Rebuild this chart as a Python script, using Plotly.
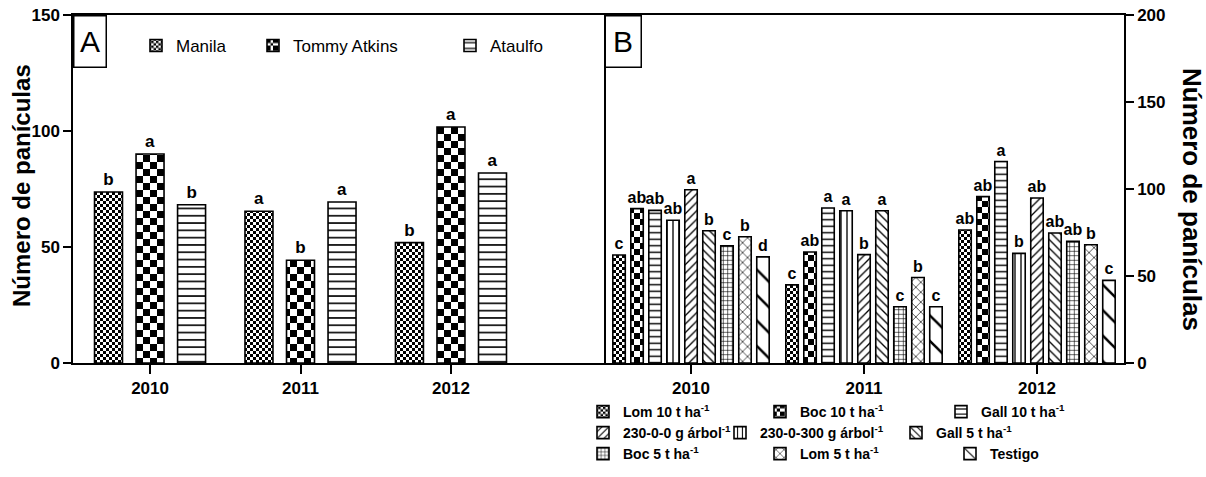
import plotly.graph_objects as go

# ---------------- data ----------------
years = ["2010", "2011", "2012"]

# Panel A: cultivars
manila = [73.7, 65.4, 51.9]
tommy_atkins = [90.1, 44.3, 101.7]
ataulfo = [68.2, 69.4, 81.9]
letters_manila = ["b", "a", "b"]
letters_tommy = ["a", "b", "a"]
letters_ataulfo = ["b", "a", "a"]
cv_a = ["17.5", "34.1", "43.1"]

# Panel B: fertilisation treatments
lom10 = [62.1, 44.9, 76.4]
boc10 = [88.7, 63.8, 95.6]
gall10 = [87.7, 89.1, 115.8]
npk_230_0_300 = [82.0, 87.5, 63.0]
npk_230_0_0 = [99.6, 62.3, 94.8]
gall5 = [76.0, 87.5, 74.7]
boc5 = [67.3, 32.3, 69.9]
lom5 = [72.6, 49.1, 68.0]
testigo = [61.0, 32.3, 47.5]

letters_lom10 = ["c", "c", "ab"]
letters_boc10 = ["ab", "ab", "ab"]
letters_gall10 = ["ab", "a", "a"]
letters_230_0_300 = ["ab", "a", "b"]
letters_230_0_0 = ["a", "b", "ab"]
letters_gall5 = ["b", "a", "ab"]
letters_boc5 = ["c", "c", "ab"]
letters_lom5 = ["b", "b", "b"]
letters_testigo = ["d", "c", "c"]
cv_b = ["17.5", "34.1", "43.1"]

# ---------------- geometry helpers ----------------
W, H = 1206, 477
ML, MR, MT, MB = 73, 82, 15, 114
PW, PH = W - ML - MR, H - MT - MB
SPLIT = (604 - ML) / PW


def px_x(px):
    return (px - ML) / PW


def px_y(py):
    return (H - MB - py) / PH


FONT = "Arial, Liberation Sans, sans-serif"


def _path_supported():
    try:
        go.bar.marker.Pattern(path="M0,0H1V1H0Z")
        return True
    except Exception:
        return False


HAS_PATH = _path_supported()


def checker(size, fallback):
    if HAS_PATH:
        h = size / 2
        return dict(path=f"M0,0H{h}V{h}H0ZM{h},{h}H{size}V{size}H{h}Z",
                    size=size, fgcolor="black", bgcolor="white",
                    fillmode="replace")
    return dict(fallback, fgcolor="black", bgcolor="white", fillmode="replace")


def hatch(shape, size, solidity):
    return dict(shape=shape, size=size, solidity=solidity, fgcolor="black",
                bgcolor="white", fillmode="replace")


fig = go.Figure()

# ---------------- panel A ----------------
series_a = [
    ("Manila", manila, letters_manila,
     checker(6, dict(shape=".", size=4, solidity=0.6))),
    ("Tommy Atkins", tommy_atkins, letters_tommy,
     checker(14, dict(shape="+", size=7, solidity=0.5))),
    ("Ataulfo", ataulfo, letters_ataulfo, hatch("-", 7.3, 0.22)),
]
legend_a_px = [136, 253, 450]
width_a = 0.186
step_a = 0.276
for i, (name, vals, lets, pat) in enumerate(series_a):
    lg = "legend" if i == 0 else f"legend{i + 1}"
    center = (i - 1) * step_a
    fig.add_trace(go.Bar(
        x=years, y=vals, name=name, text=lets,
        textposition="outside", constraintext="none", cliponaxis=False,
        textfont=dict(family=FONT, size=17, color="black", weight="bold"),
        width=width_a, offset=center - width_a / 2,
        marker=dict(color="white", pattern=pat,
                    line=dict(color="black", width=1.6)),
        xaxis="x", yaxis="y", legend=lg, showlegend=True,
    ))

# ---------------- panel B ----------------
series_b = [
    ("Lom 10 t ha<sup>-1</sup>", lom10, letters_lom10,
     checker(6, dict(shape=".", size=4, solidity=0.6))),
    ("Boc 10 t ha<sup>-1</sup>", boc10, letters_boc10,
     checker(12, dict(shape="+", size=6, solidity=0.5))),
    ("Gall 10 t ha<sup>-1</sup>", gall10, letters_gall10, hatch("-", 6.5, 0.22)),
    ("230-0-300 g árbol<sup>-1</sup>", npk_230_0_300, letters_230_0_300,
     hatch("|", 6, 0.22)),
    ("230-0-0 g árbol<sup>-1</sup>", npk_230_0_0, letters_230_0_0,
     hatch("/", 6, 0.22)),
    ("Gall 5 t ha<sup>-1</sup>", gall5, letters_gall5, hatch("\\", 6, 0.22)),
    ("Boc 5 t ha<sup>-1</sup>", boc5, letters_boc5, hatch("+", 4.5, 0.25)),
    ("Lom 5 t ha<sup>-1</sup>", lom5, letters_lom5, hatch("x", 7, 0.18)),
    ("Testigo", testigo, letters_testigo, hatch("\\", 18, 0.14)),
]
# legend slots (left edge, row centre) in page pixels, three rows
legend_b_px = [
    (583, 412), (760, 412), (941, 412),
    (720, 433), (583, 433), (896, 433),
    (583, 454), (760, 454), (950, 454),
]
width_b = 0.072
step_b = 0.104
for i, (name, vals, lets, pat) in enumerate(series_b):
    lg = f"legend{i + 4}"
    center = (i - 4) * step_b
    fig.add_trace(go.Bar(
        x=years, y=vals, name=name, text=lets,
        textposition="outside", constraintext="none", cliponaxis=False,
        textfont=dict(family=FONT, size=16, color="black", weight="bold"),
        width=width_b, offset=center - width_b / 2,
        marker=dict(color="white", pattern=pat,
                    line=dict(color="black", width=1.6)),
        xaxis="x2", yaxis="y2", legend=lg, showlegend=True,
    ))

# ---------------- legends (placed in page pixels) ----------------
legends = {}
for i, px in enumerate(legend_a_px):
    key = "legend" if i == 0 else f"legend{i + 1}"
    legends[key] = dict(
        x=px / W, y=(H - 46) / H, xref="container", yref="container",
        xanchor="left", yanchor="middle",
        bgcolor="rgba(0,0,0,0)", borderwidth=0,
        font=dict(family=FONT, size=17, color="black"),
    )
for i, (px, py) in enumerate(legend_b_px):
    legends[f"legend{i + 4}"] = dict(
        x=px / W, y=(H - py) / H, xref="container", yref="container",
        xanchor="left", yanchor="middle",
        bgcolor="rgba(0,0,0,0)", borderwidth=0,
        font=dict(family=FONT, size=14, color="black", weight="bold"),
    )

# ---------------- annotations ----------------
annotations = []
for yr, cv in zip(years, cv_a):
    annotations.append(dict(
        x=yr, xref="x", y=px_y(92), yref="paper", text=f"cv: {cv}",
        showarrow=False, font=dict(family=FONT, size=16, color="black",
                                   weight="bold")))
for yr, cv, dx in zip(years, cv_b, [-7, -2, -17]):
    annotations.append(dict(
        x=yr, xref="x2", y=px_y(100), yref="paper", text=f"cv: {cv}",
        xshift=dx, showarrow=False,
        font=dict(family=FONT, size=16, color="black", weight="bold")))

for label, x0, wbox in [("A", 0.0, 31), ("B", SPLIT, 35)]:
    annotations.append(dict(
        x=x0, y=1, xref="paper", yref="paper", xanchor="left",
        yanchor="top", text=label, showarrow=False, width=wbox, height=50,
        bordercolor="black", borderwidth=1.5, borderpad=0, align="center",
        valign="middle", font=dict(family=FONT, size=30, color="black")))

annotations.append(dict(
    x=px_x(21), y=px_y(186), xref="paper", yref="paper",
    text="Número de panículas", textangle=-90, showarrow=False,
    xanchor="center", yanchor="middle",
    font=dict(family=FONT, size=24, color="black", weight="bold")))
annotations.append(dict(
    x=px_x(1192), y=px_y(199), xref="paper", yref="paper",
    text="Número de panículas", textangle=90, showarrow=False,
    xanchor="center", yanchor="middle",
    font=dict(family=FONT, size=26, color="black", weight="bold")))

# ---------------- axes ----------------
tickfont = dict(family=FONT, size=17, color="black", weight="bold")
axis_common = dict(showline=True, linecolor="black", linewidth=1.5,
                   ticks="outside", tickcolor="black", tickwidth=1.5,
                   showgrid=False, zeroline=False, tickfont=tickfont,
                   automargin=False)

fig.update_layout(
    width=W, height=H,
    margin=dict(l=ML, r=MR, t=MT, b=MB, autoexpand=False),
    paper_bgcolor="white", plot_bgcolor="white",
    barmode="overlay",
    xaxis=dict(axis_common, domain=[0, SPLIT], type="category",
               range=[-0.512, 3.017], anchor="y", mirror=True, ticklen=9),
    yaxis=dict(axis_common, domain=[0, 1], range=[0, 150], dtick=50,
               anchor="x", mirror=True, ticklen=8),
    xaxis2=dict(axis_common, domain=[SPLIT, 1], type="category",
                range=[-0.503, 2.503], anchor="y2", mirror=True, ticklen=9),
    yaxis2=dict(axis_common, domain=[0, 1], range=[0, 200], dtick=50,
                anchor="x2", side="right", ticklen=8),
    annotations=annotations,
    **legends,
)

fig.write_html("out.html")
